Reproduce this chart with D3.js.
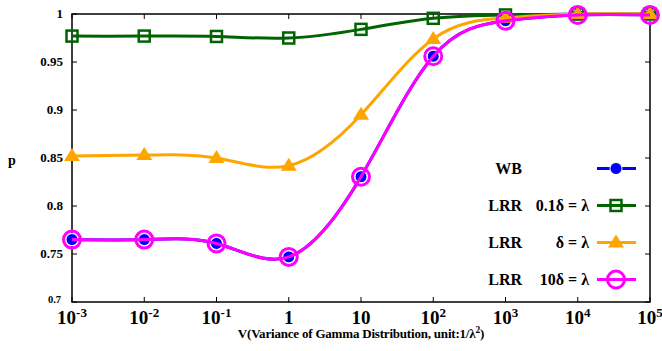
<!DOCTYPE html>
<html>
<head>
<meta charset="utf-8">
<script src="https://cdn.jsdelivr.net/npm/d3@7"></script>
<style>
  body { margin: 0; background: #fff; }
</style>
</head>
<body>
<div id="chart"></div>
<script>
// x values (variance), one per decade
var xValues = [1e-3, 1e-2, 1e-1, 1, 10, 1e2, 1e3, 1e4, 1e5];
var xTickLabels = [["10", "-3"], ["10", "-2"], ["10", "-1"], ["1", ""], ["10", ""], ["10", "2"], ["10", "3"], ["10", "4"], ["10", "5"]];

// p for each series
var wbValues     = [0.765, 0.765, 0.761, 0.747, 0.8305, 0.956, 0.993, 0.999, 0.999];
var lrr01Values  = [0.977, 0.977, 0.9766, 0.975, 0.984, 0.9955, 0.999, 1.0, 1.0];
var lrr1Values   = [0.852, 0.853, 0.850, 0.842, 0.895, 0.974, 0.996, 1.0, 1.0];
var lrr10Values  = [0.765, 0.765, 0.761, 0.747, 0.8305, 0.956, 0.993, 0.999, 0.999];

var yTicks = [0.7, 0.75, 0.8, 0.85, 0.9, 0.95, 1];
var yTickLabels = ["0.7", "0.75", "0.8", "0.85", "0.9", "0.95", "1"];

var seriesNames = ["WB", "LRR", "LRR", "LRR"];
var seriesFormulas = ["", "0.1\u03b4 = \u03bb", "\u03b4 = \u03bb", "10\u03b4 = \u03bb"];

var series = [
  { values: wbValues, color: "#0000ff", marker: "dot" },
  { values: lrr01Values, color: "#006400", marker: "square" },
  { values: lrr1Values, color: "#ffa500", marker: "triangle" },
  { values: lrr10Values, color: "#ff00ff", marker: "circle" }
];

var fontFamily = "'Liberation Serif', serif";

var widthpx = 662, heightpx = 351;
var margin = { top: 14, right: 12, bottom: 49, left: 72 };
var width = widthpx - margin.left - margin.right;
var height = heightpx - margin.top - margin.bottom;

var svg = d3.select("#chart").append("svg")
  .attr("width", widthpx)
  .attr("height", heightpx);

var g = svg.append("g")
  .attr("transform", "translate(" + margin.left + "," + margin.top + ")");

var x = d3.scaleLog().domain([1e-3, 1e5]).range([0, width]);
var y = d3.scaleLinear().domain([0.7, 1]).range([height, 0]);

// small helper so every text gets the same font
var label = function(sel) {
  return sel.style("font-family", fontFamily)
    .style("font-weight", "bold")
    .attr("fill", "#000");
};

// frame
g.append("rect")
  .attr("width", width)
  .attr("height", height)
  .attr("fill", "none")
  .attr("stroke", "#000")
  .attr("stroke-width", 1.5);

// inward ticks on all four sides
var tickLen = 5;
g.selectAll(".xtick").data(xValues).enter().append("path")
  .attr("class", "xtick")
  .attr("stroke", "#000")
  .attr("d", function(d) {
    var px = x(d);
    return "M" + px + "," + height + "v" + (-tickLen) + "M" + px + ",0v" + tickLen;
  });
g.selectAll(".ytick").data(yTicks).enter().append("path")
  .attr("class", "ytick")
  .attr("stroke", "#000")
  .attr("d", function(d) {
    var py = y(d);
    return "M0," + py + "h" + tickLen + "M" + width + "," + py + "h" + (-tickLen);
  });

// y tick labels
g.selectAll(".ylabel").data(yTicks).enter().append("text")
  .attr("class", "ylabel")
  .attr("x", function(d, i) { return i === 0 ? -11 : -9; })
  .attr("y", function(d, i) { return i === 0 ? y(d) + 1 : y(d) + 4; })
  .attr("text-anchor", "end")
  .call(label)
  .style("font-size", function(d, i) { return i === 0 ? "10.5px" : "13px"; })
  .text(function(d, i) { return yTickLabels[i]; });

// x tick labels with superscripts
var xl = g.selectAll(".xlabel").data(xValues).enter().append("text")
  .attr("class", "xlabel")
  .attr("x", function(d) { return x(d); })
  .attr("y", height + 22)
  .attr("text-anchor", "middle")
  .call(label)
  .style("font-size", "19px");
xl.append("tspan").text(function(d, i) { return xTickLabels[i][0]; });
xl.append("tspan")
  .attr("dy", -7)
  .style("font-size", "13px")
  .text(function(d, i) { return xTickLabels[i][1]; });

// axis titles
var xTitle = svg.append("text")
  .attr("x", margin.left + width / 2)
  .attr("y", 338)
  .attr("text-anchor", "middle")
  .call(label)
  .style("font-size", "13px")
  .style("letter-spacing", "-0.2px");
xTitle.append("tspan").text("V(Variance of Gamma Distribution, unit:1/\u03bb");
xTitle.append("tspan").attr("dy", -5).style("font-size", "9.5px").text("2");
xTitle.append("tspan").attr("dy", 5).text(")");

svg.append("text")
  .attr("x", 12)
  .attr("y", 165)
  .attr("text-anchor", "middle")
  .call(label)
  .style("font-size", "14px")
  .text("p");

// draws one marker
var drawMarker = function(sel, s) {
  if (s.marker === "dot") {
    sel.append("circle").attr("r", 6)
      .attr("fill", s.color).attr("stroke", "#fff").attr("stroke-width", 1);
  } else if (s.marker === "square") {
    sel.append("rect").attr("x", -5.5).attr("y", -5.5).attr("width", 11).attr("height", 11)
      .attr("fill", "none").attr("stroke", s.color).attr("stroke-width", 2.5);
  } else if (s.marker === "triangle") {
    sel.append("path").attr("d", "M0,-8L8,5L-8,5Z")
      .attr("fill", s.color);
  } else {
    sel.append("circle").attr("r", 8.5)
      .attr("fill", "none").attr("stroke", s.color).attr("stroke-width", 3);
  }
};

var line = d3.line()
  .x(function(d, i) { return x(xValues[i]); })
  .y(function(d) { return y(d); })
  .curve(d3.curveNatural);

series.forEach(function(s) {
  g.append("path")
    .datum(s.values)
    .attr("fill", "none")
    .attr("stroke", s.color)
    .attr("stroke-width", 3)
    .attr("d", line);

  g.selectAll(".pt").data(s.values).enter().append("g")
    .attr("transform", function(d, i) { return "translate(" + x(xValues[i]) + "," + y(d) + ")"; })
    .each(function() { drawMarker(d3.select(this), s); });
});

// legend
var legend = svg.selectAll(".legend").data(series).enter().append("g")
  .attr("class", "legend")
  .attr("transform", function(d, i) { return "translate(0," + (168.5 + i * 37) + ")"; });

legend.append("text")
  .attr("x", 522).attr("y", 5.5)
  .attr("text-anchor", "end")
  .call(label)
  .style("font-size", "16px")
  .text(function(d, i) { return seriesNames[i]; });

legend.append("text")
  .attr("x", 589).attr("y", 5.5)
  .attr("text-anchor", "end")
  .call(label)
  .style("font-size", "16px")
  .text(function(d, i) { return seriesFormulas[i]; });

legend.append("path")
  .attr("d", "M597,0H636")
  .attr("stroke", function(d) { return d.color; })
  .attr("stroke-width", 3);

legend.append("g")
  .attr("transform", "translate(616,0)")
  .each(function(s) { drawMarker(d3.select(this), s); });
</script>
</body>
</html>
